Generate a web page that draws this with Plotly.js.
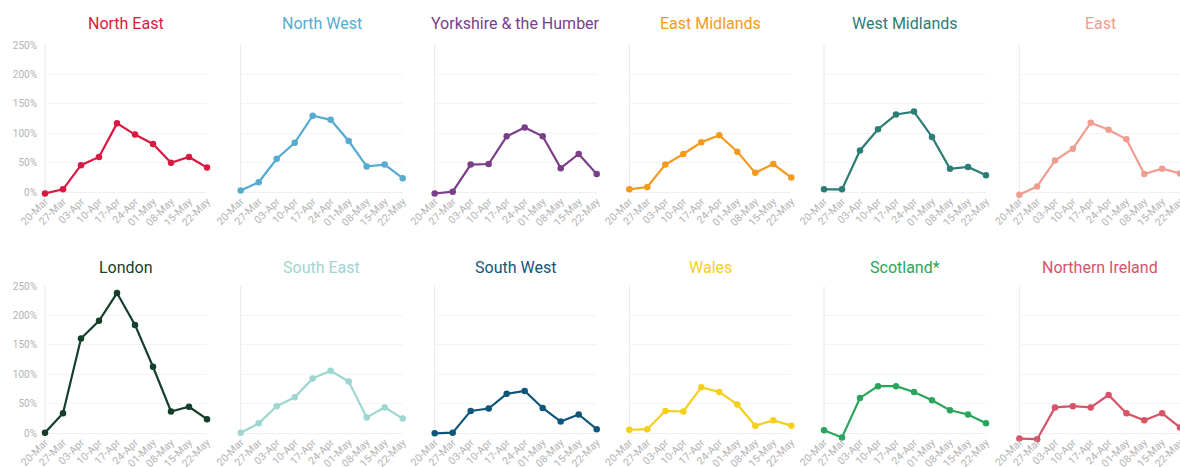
<!DOCTYPE html>
<html><head><meta charset="utf-8">
<script src="https://cdn.plot.ly/plotly-3.0.1.min.js"></script>
<style>html,body{margin:0;padding:0;background:#fff}#chart{width:1180px;height:467px}</style>
</head><body><div id="chart"></div>
<script>
const weeks = ['20-Mar','27-Mar','03-Apr','10-Apr','17-Apr','24-Apr','01-May','08-May','15-May','22-May'];
const regions = ['North East','North West','Yorkshire &amp; the Humber','East Midlands','West Midlands','East',
                 'London','South East','South West','Wales','Scotland*','Northern Ireland'];
const colors = ['#d81a42','#55abd0','#7a3e8b','#f39a1e','#2b7d76','#f09d90',
                '#163f2b','#9ed6d0','#10567b','#f4cf1c','#2aa55c','#d65368'];
const northEast = [-2,5,46,60,117,98,82,50,60,42];
const northWest = [3,17,57,84,130,123,87,44,47,24];
const yorkshire = [-2,1,47,48,95,110,95,41,65,31];
const eastMidlands = [5,9,47,65,85,97,69,33,48,25];
const westMidlands = [5,5,71,107,132,137,94,40,43,29];
const east = [-4,10,54,74,118,106,90,31,40,32];
const london = [1,34,161,191,238,184,113,37,45,24];
const southEast = [1,17,46,61,93,106,88,27,44,25];
const southWest = [0,1,38,42,67,72,43,20,32,7];
const wales = [6,7,38,37,78,70,49,13,22,13];
const scotland = [5,-7,60,80,80,70,56,39,32,17];
const northernIreland = [-9,-10,44,46,44,65,34,22,34,10];
const seriesValues = [northEast,northWest,yorkshire,eastMidlands,westMidlands,east,
                      london,southEast,southWest,wales,scotland,northernIreland];
const yTicks = [0,50,100,150,200,250];

const W = 1180, H = 467;
const colLeft = [45,240.7,434.7,629.3,824,1019.3];
const colW = 162;
const rowZero = [192.3,433.3];
const pxPerPct = (192.3-45)/250;
const yMin = -15, yMax = 250;
const titleY = [23,267];

const data = [], shapes = [], layout = {
  width: W, height: H, margin:{l:0,r:0,t:0,b:0},
  paper_bgcolor:'#fff', plot_bgcolor:'#fff', showlegend:false,
  font:{family:'Roboto, Arial, sans-serif'}, annotations:[], shapes:shapes
};
for (let i=0;i<12;i++){
  const r = Math.floor(i/6), c = i%6, n = i+1;
  const sfx = n===1?'':String(n);
  const xa = 'x'+sfx, ya = 'y'+sfx;
  data.push({x:weeks, y:seriesValues[i], xaxis:xa, yaxis:ya, type:'scatter', mode:'lines+markers',
    line:{color:colors[i], width:2.2}, marker:{color:colors[i], size:6.5}, cliponaxis:false, hoverinfo:'skip'});
  const x0 = colLeft[c]/W, x1 = Math.min(1,(colLeft[c]+colW)/W);
  const bottomPx = rowZero[r] - yMin*pxPerPct, topPx = rowZero[r] - yMax*pxPerPct;
  layout['xaxis'+sfx] = {domain:[x0,x1], anchor:'free', position:(H-rowZero[r])/H, type:'category', range:[0,9],
    tickangle:-45, tickfont:{size:10.5,color:'#b3b3b3'}, showgrid:false, zeroline:false,
    showline:false, ticks:'', fixedrange:true};
  layout['yaxis'+sfx] = {domain:[(H-bottomPx)/H,(H-topPx)/H], anchor:xa,
    range:[yMin,yMax], tickvals:yTicks, ticktext:yTicks.map(v=>v+'%'), showticklabels:c===0,
    tickfont:{size:10,color:'#b3b3b3'}, ticklabelstandoff:7, gridcolor:'#f4f4f4', gridwidth:1,
    zeroline:true, zerolinecolor:'#efefef', showline:false, ticks:'', fixedrange:true};
  shapes.push({type:'line', xref:xa+' domain', yref:ya, x0:0, x1:0, y0:0, y1:250,
    line:{color:'#e8e8e8', width:1}, layer:'below'});
  layout.annotations.push({text:regions[i], xref:'paper', yref:'paper',
    x:(colLeft[c]+colW/2)/W, y:(H-titleY[r])/H, xanchor:'center', yanchor:'middle', showarrow:false,
    font:{size:16,color:colors[i],family:'Roboto, Arial, sans-serif'}});
}
Plotly.newPlot('chart', data, layout, {staticPlot:true, displayModeBar:false});
</script></body></html>
